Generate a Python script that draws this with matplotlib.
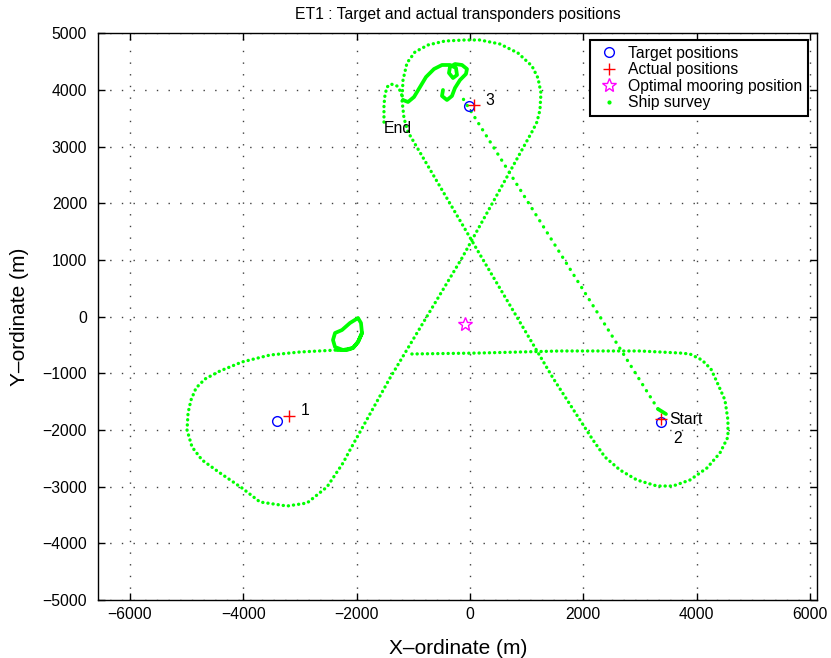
import matplotlib
matplotlib.use('Agg')
import matplotlib.pyplot as plt
from matplotlib.lines import Line2D

plt.rcParams['font.family'] = ['Liberation Sans', 'DejaVu Sans']

# Transponder positions (m)
target_x = [-3400, 3380, -20]
target_y = [-1840, -1850, 3710]
actual_x = [-3190, 3380, 70]
actual_y = [-1750, -1810, 3735]
mooring_x = [-80]
mooring_y = [-130]

# Text labels on the plot
label_text = ['1', 'Start', '2', '3', 'End']
label_x = [-2980, 3510, 3580, 265, -1520]
label_y = [-1650, -1820, -2145, 3815, 3320]

# Ship survey track, normal speed
survey_x = [-1025, 176, 1588, 3000, 3706, 3882, 4094, 4253,
            4359, 4500, 4553, 4553, 4412, 4182, 3882, 3582, 3300, 2947, 2647, 2382, 2171, 1976,
            1465, 212, -1094,
            -1165, -1200, -1182, -1112, -971, -741, -441, -88, 176, 529, 847, 1094, 1200, 1253, 1235, 1182, 1112,
            -141, -1412, -2118,
            -2241, -2524, -2876, -3229, -3706, -4024, -4412, -4729, -4906, -4994, -4976, -4924, -4835, -4676,
            -4412, -4024, -3529, -3000, -2347]
survey_y = [-658, -641, -605, -605, -641, -658, -764, -923,
            -1152, -1470, -1823, -2123, -2405, -2670, -2882, -2988, -2988, -2882, -2705, -2476, -2176, -1876,
            -1082, 1036, 3259,
            3506, 3824, 4177, 4477, 4671, 4795, 4865, 4883, 4883, 4812, 4653, 4424, 4212, 3948, 3648, 3436, 3295,
            1036, -1082, -2352,
            -2582, -3005, -3288, -3341, -3270, -3023, -2758, -2529, -2299, -1999, -1699, -1470, -1258, -1099,
            -958, -799, -676, -623, -588]

# last leg up to the End point
end_x = [-1182, -1218, -1288, -1394, -1465, -1500, -1518, -1518, -1518]
end_y = [3824, 3965, 4071, 4106, 4053, 3912, 3736, 3542, 3348]

# first leg from Start (faster, sparser points)
start_x = [3318, -141]
start_y = [-1629, 3877]

# slow parts (points overlap)
curl_x = [-476, -494, -406, -318, -265, -176, -71, -53, -141, -265, -353, -371, -300, -229, -247,
          -353, -494, -635, -776, -882, -988, -1094, -1182]
curl_y = [4001, 3895, 3824, 3895, 4036, 4177, 4283, 4371, 4442, 4459, 4406, 4301, 4212, 4265, 4389,
          4442, 4442, 4371, 4230, 4053, 3877, 3789, 3824]
blob_x = [-2347, -2171, -2065, -1976, -1906, -1924, -1976, -2118, -2259, -2382, -2418, -2382, -2241,
          -2065, -1976, -1906]
blob_y = [-588, -588, -552, -446, -288, -111, -23, -111, -235, -288, -411, -535, -588, -552, -446, -288]
stub_x = [3459, 3318]
stub_y = [-1717, -1629]

verde = '#00ff00'
fs = 11.3

fig = plt.figure(figsize=(8.31, 6.58), dpi=100)
ax = fig.add_axes([0.1183, 0.0881, 0.8652, 0.8612])

punteado = dict(color=verde, lw=2.4, dash_capstyle='round', solid_capstyle='round')
ax.plot(survey_x, survey_y, ls=(0, (0.05, 1.5)), **punteado)
ax.plot(end_x, end_y, ls=(0, (0.05, 1.5)), **punteado)
ax.plot(start_x, start_y, ls=(0, (0.05, 2.1)), **punteado)
for xs, ys in [(curl_x, curl_y), (blob_x, blob_y), (stub_x, stub_y)]:
    ax.plot(xs, ys, color=verde, lw=2.7, solid_capstyle='round', solid_joinstyle='round')

h1, = ax.plot(target_x, target_y, 'o', color='blue', mfc='none', ms=7, mew=1.0, label='Target positions')
h2, = ax.plot(actual_x, actual_y, '+', color='red', ms=8, mew=1.0, label='Actual positions')
h3, = ax.plot(mooring_x, mooring_y, '*', color='magenta', mfc='none', ms=10, mew=1.0,
              label='Optimal mooring position')
h4 = Line2D([], [], ls='none', marker='.', color=verde, ms=4, label='Ship survey')

for t, x, y in zip(label_text, label_x, label_y):
    ax.text(x, y, t, fontsize=fs, ha='left', va='center')

ax.set_xlim(-6560, 6130)
ax.set_ylim(-5000, 5000)
ax.set_xticks(range(-6000, 6001, 2000))
ax.set_yticks(range(-5000, 5001, 1000))
ax.tick_params(direction='in', top=True, right=True, length=5, width=1, labelsize=fs)
ax.tick_params(axis='x', pad=5)
ax.tick_params(axis='y', pad=8)
for s in ax.spines.values():
    s.set_linewidth(1.0)
ax.grid(True, color='0.25', lw=1.0, ls=(0, (1, 7.4)))
ax.set_axisbelow(True)

ax.set_title('ET1 : Target and actual transponders positions', fontsize=fs, pad=10)
ax.set_xlabel('X\u2013ordinate (m)', fontsize=15, labelpad=12)
ax.set_ylabel('Y\u2013ordinate (m)', fontsize=15, labelpad=10)

leg = ax.legend(handles=[h1, h2, h3, h4], loc='upper right', bbox_to_anchor=(0.987, 0.988),
                borderaxespad=0, fontsize=fs, fancybox=False, framealpha=1, edgecolor='black',
                labelspacing=0.1, handletextpad=0.3, handlelength=1.8, borderpad=0.35)
leg.get_frame().set_linewidth(1.5)

fig.savefig('out.png', dpi=100)
